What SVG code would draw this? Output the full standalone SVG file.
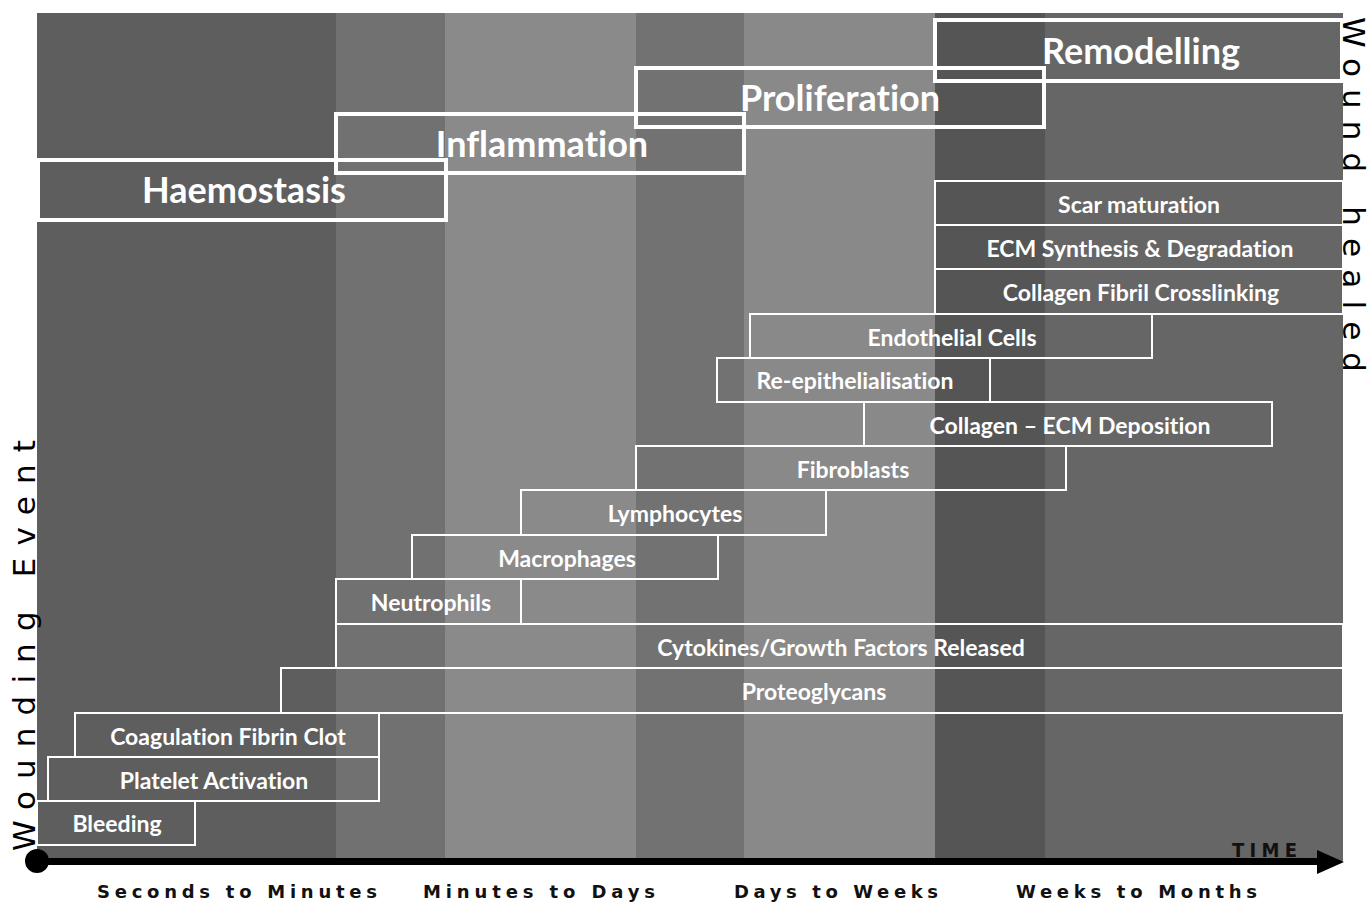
<svg xmlns="http://www.w3.org/2000/svg" width="1371" height="902" viewBox="0 0 1371 902">
<style>
.bar{fill:none;stroke:#fff;stroke-width:2}
.phase{fill:none;stroke:#fff;stroke-width:4}
.bt{font-family:Lato,"Liberation Sans",sans-serif;font-weight:bold;font-size:23px;fill:#fff;text-anchor:middle;font-variant-ligatures:none}
.pt{font-family:Lato,"Liberation Sans",sans-serif;font-weight:bold;font-size:36px;fill:#fff;text-anchor:middle;font-variant-ligatures:none}
.ax{font-family:"DejaVu Sans",sans-serif;font-weight:bold;font-size:18px;fill:#111}
.vt{font-family:"DejaVu Sans",sans-serif;font-size:31px;fill:#000}
</style>
<g id="background">
<rect x="37" y="13" width="299" height="848" fill="#5e5e5e"/>
<rect x="336" y="13" width="109" height="848" fill="#717171"/>
<rect x="445" y="13" width="191" height="848" fill="#8a8a8a"/>
<rect x="636" y="13" width="108" height="848" fill="#727272"/>
<rect x="744" y="13" width="191" height="848" fill="#898989"/>
<rect x="935" y="13" width="110" height="848" fill="#555555"/>
<rect x="1045" y="13" width="298" height="848" fill="#666666"/>
</g>
<g id="bars">
<g id="scar"><rect class="bar" x="935" y="181" width="408" height="44"/><text class="bt" x="1139" y="213">Scar maturation</text></g>
<g id="ecm"><rect class="bar" x="935" y="225" width="408" height="44"/><text class="bt" x="1140" y="257">ECM Synthesis &amp; Degradation</text></g>
<g id="cfc"><rect class="bar" x="935" y="269" width="408" height="45"/><text class="bt" x="1141" y="301">Collagen Fibril Crosslinking</text></g>
<g id="endo"><rect class="bar" x="750" y="314" width="402" height="44"/><text class="bt" x="952" y="346">Endothelial Cells</text></g>
<g id="reepi"><rect class="bar" x="717" y="358" width="273" height="44"/><text class="bt" x="855" y="389">Re-epithelialisation</text></g>
<g id="collecm"><rect class="bar" x="864" y="402" width="408" height="44"/><text class="bt" x="1070" y="434">Collagen – ECM Deposition</text></g>
<g id="fibro"><rect class="bar" x="636" y="446" width="430" height="44"/><text class="bt" x="853" y="478">Fibroblasts</text></g>
<g id="lympho"><rect class="bar" x="521" y="490" width="305" height="45"/><text class="bt" x="675" y="522">Lymphocytes</text></g>
<g id="macro"><rect class="bar" x="412" y="535" width="306" height="44"/><text class="bt" x="567" y="567">Macrophages</text></g>
<g id="neutro"><rect class="bar" x="336" y="579" width="185" height="45"/><text class="bt" x="431" y="611">Neutrophils</text></g>
<g id="cyto"><rect class="bar" x="336" y="624" width="1007" height="44"/><text class="bt" x="841" y="656">Cytokines/Growth Factors Released</text></g>
<g id="proteo"><rect class="bar" x="281" y="668" width="1062" height="45"/><text class="bt" x="814" y="700">Proteoglycans</text></g>
<g id="coag"><rect class="bar" x="75" y="713" width="304" height="44"/><text class="bt" x="228" y="745">Coagulation Fibrin Clot</text></g>
<g id="platelet"><rect class="bar" x="48" y="757" width="331" height="44"/><text class="bt" x="214" y="789">Platelet Activation</text></g>
<g id="bleeding"><rect class="bar" x="37" y="801" width="158" height="44"/><text class="bt" x="117" y="832">Bleeding</text></g>
</g>
<g id="phases">
<g id="haemostasis"><rect class="phase" x="38" y="160" width="408" height="60"/><text class="pt" x="244" y="203">Haemostasis</text></g>
<g id="inflammation"><rect class="phase" x="336" y="114" width="408" height="59"/><text class="pt" x="542" y="157">Inflammation</text></g>
<g id="proliferation"><rect class="phase" x="636" y="68" width="408" height="59"/><text class="pt" x="840" y="111">Proliferation</text></g>
<g id="remodelling"><rect class="phase" x="935" y="20" width="407" height="61"/><text class="pt" x="1141" y="64">Remodelling</text></g>
</g>
<g id="connectors">
<line x1="37" y1="861.5" x2="1322" y2="861.5" stroke="#000" stroke-width="7"/>
<polygon points="1317,850 1344,862 1317,874" fill="#000"/>
<circle cx="37" cy="861" r="12" fill="#000"/>
</g>
<g id="labels">
<text x="1232" y="857" font-family="'DejaVu Sans Condensed','DejaVu Sans',sans-serif" font-weight="bold" font-size="20" fill="#111" textLength="65" lengthAdjust="spacing">TIME</text>
<text class="ax" x="97" y="898" textLength="280" lengthAdjust="spacing">Seconds to Minutes</text>
<text class="ax" x="423" y="898" textLength="232" lengthAdjust="spacing">Minutes to Days</text>
<text class="ax" x="734" y="898" textLength="204" lengthAdjust="spacing">Days to Weeks</text>
<text class="ax" x="1016" y="898" textLength="241" lengthAdjust="spacing">Weeks to Months</text>
<text class="vt" transform="translate(35,851) rotate(-90)" x="0" y="0" textLength="411" lengthAdjust="spacing">Wounding Event</text>
<text class="vt" transform="translate(1343,17) rotate(90)" x="0" y="0" textLength="355" lengthAdjust="spacing">Wound healed</text>
</g>
</svg>
